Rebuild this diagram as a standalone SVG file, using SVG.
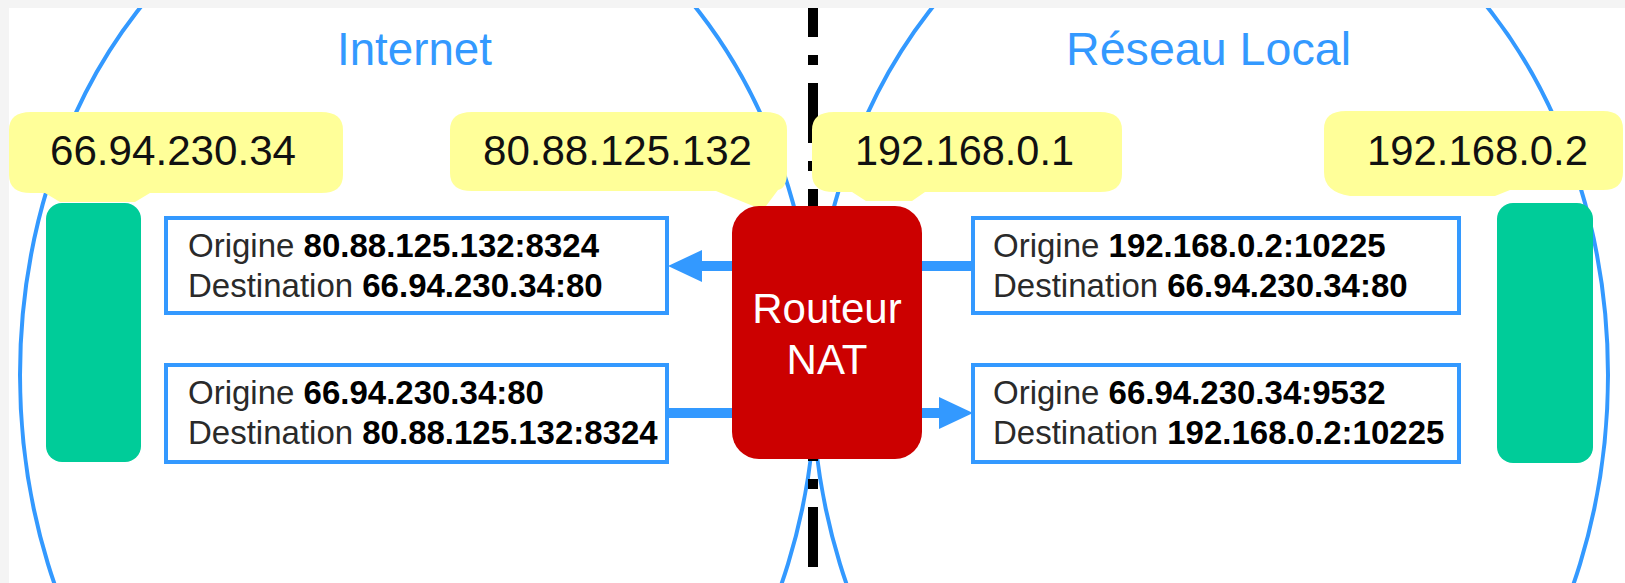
<svg xmlns="http://www.w3.org/2000/svg" width="1625" height="583" viewBox="0 0 1625 583">
<defs>
<style>
.net{fill:none;stroke:#3399ff;stroke-width:4}
.title{font-family:"Liberation Sans",Arial,sans-serif;font-size:46px;fill:#3399ff}
.call{fill:#ffff99}
.ip{font-family:"Liberation Sans",Arial,sans-serif;font-size:43px;fill:#111}
.host{fill:#00cc99}
.msg{fill:#fff;stroke:#3399ff;stroke-width:4}
.mt{font-family:"Liberation Sans",Arial,sans-serif;font-size:33px;fill:#2a2a2a}
.mt tspan.b{font-weight:bold;fill:#000}
.link{stroke:#3399ff;stroke-width:10;fill:none}
.rt{font-family:"Liberation Sans",Arial,sans-serif;font-size:42px;fill:#fff;text-anchor:middle}
</style>
<marker id="ah" markerUnits="userSpaceOnUse" viewBox="0 0 34 32" refX="0" refY="16" markerWidth="34" markerHeight="32" orient="auto">
<path d="M0,0 L34,16 L0,32 Z" fill="#3399ff"/>
</marker>
</defs>
<rect width="1625" height="583" fill="#fff"/>
<g id="zones">
<ellipse class="net" cx="418" cy="375" rx="398" ry="513"/>
<ellipse class="net" cx="1210" cy="375" rx="398" ry="513"/>
<text class="title" x="337" y="65" textLength="155" lengthAdjust="spacingAndGlyphs">Internet</text>
<text class="title" x="1066" y="65" textLength="285" lengthAdjust="spacingAndGlyphs">Réseau Local</text>
</g>
<path d="M813,-23 L813,583" stroke="#000" stroke-width="10" stroke-dasharray="60 18 10 18"/>
<g id="ip-serveur">
<path class="call" d="M31,112 H321 Q343,112 343,130 V175 Q343,193 321,193 H150 L135,202 H60 L45,193 H31 Q9,193 9,175 V130 Q9,112 31,112 Z"/>
<text class="ip" x="50" y="165" textLength="246" lengthAdjust="spacingAndGlyphs">66.94.230.34</text>
</g>
<g id="ip-routeur-public">
<path class="call" d="M472,112 H765 Q787,112 787,130 V172 Q787,188 778,190 L763,210 L716,191 H472 Q450,191 450,173 V130 Q450,112 472,112 Z"/>
<text class="ip" x="483" y="165" textLength="269" lengthAdjust="spacingAndGlyphs">80.88.125.132</text>
</g>
<g id="ip-routeur-local">
<path class="call" d="M834,112 H1100 Q1122,112 1122,130 V174 Q1122,192 1100,192 H925 L912,201 H866 L852,192 H834 Q812,192 812,174 V130 Q812,112 834,112 Z"/>
<text class="ip" x="855" y="165" textLength="219" lengthAdjust="spacingAndGlyphs">192.168.0.1</text>
</g>
<g id="ip-poste">
<path class="call" d="M1346,111 H1603 Q1623,111 1623,129 V172 Q1623,190 1603,190 H1510 L1495,196 H1350 Q1324,192 1324,172 V129 Q1324,111 1346,111 Z"/>
<text class="ip" x="1367" y="165" textLength="221" lengthAdjust="spacingAndGlyphs">192.168.0.2</text>
</g>
<g id="serveur"><rect class="host" x="46" y="203" width="95" height="259" rx="16"/></g>
<g id="poste"><rect class="host" x="1497" y="203" width="96" height="260" rx="16"/></g>
<g id="paquet-sortant-public">
<rect class="msg" x="166" y="218" width="501" height="95"/>
<text class="mt" x="188" y="257">Origine <tspan class="b">80.88.125.132:8324</tspan></text>
<text class="mt" x="188" y="297">Destination <tspan class="b">66.94.230.34:80</tspan></text>
</g>
<g id="paquet-entrant-public">
<rect class="msg" x="166" y="365" width="501" height="97"/>
<text class="mt" x="188" y="404">Origine <tspan class="b">66.94.230.34:80</tspan></text>
<text class="mt" x="188" y="444">Destination <tspan class="b">80.88.125.132:8324</tspan></text>
</g>
<g id="paquet-sortant-local">
<rect class="msg" x="973" y="218" width="486" height="95"/>
<text class="mt" x="993" y="257">Origine <tspan class="b">192.168.0.2:10225</tspan></text>
<text class="mt" x="993" y="297">Destination <tspan class="b">66.94.230.34:80</tspan></text>
</g>
<g id="paquet-entrant-local">
<rect class="msg" x="973" y="365" width="486" height="97"/>
<text class="mt" x="993" y="404">Origine <tspan class="b">66.94.230.34:9532</tspan></text>
<text class="mt" x="993" y="444">Destination <tspan class="b">192.168.0.2:10225</tspan></text>
</g>
<g id="connectors">
<line class="link" x1="735" y1="266" x2="702" y2="266" marker-end="url(#ah)"/>
<line class="link" x1="667" y1="413" x2="735" y2="413"/>
<line class="link" x1="920" y1="266" x2="973" y2="266"/>
<line class="link" x1="920" y1="413" x2="939" y2="413" marker-end="url(#ah)"/>
</g>
<g id="routeur">
<rect x="732" y="206" width="190" height="253" rx="27" fill="#cc0000"/>
<text class="rt" x="827" y="323">Routeur</text>
<text class="rt" x="827" y="374">NAT</text>
</g>
<path d="M0,0 H1625 V8 H9 V583 H0 Z" fill="#f4f4f4"/>
</svg>
